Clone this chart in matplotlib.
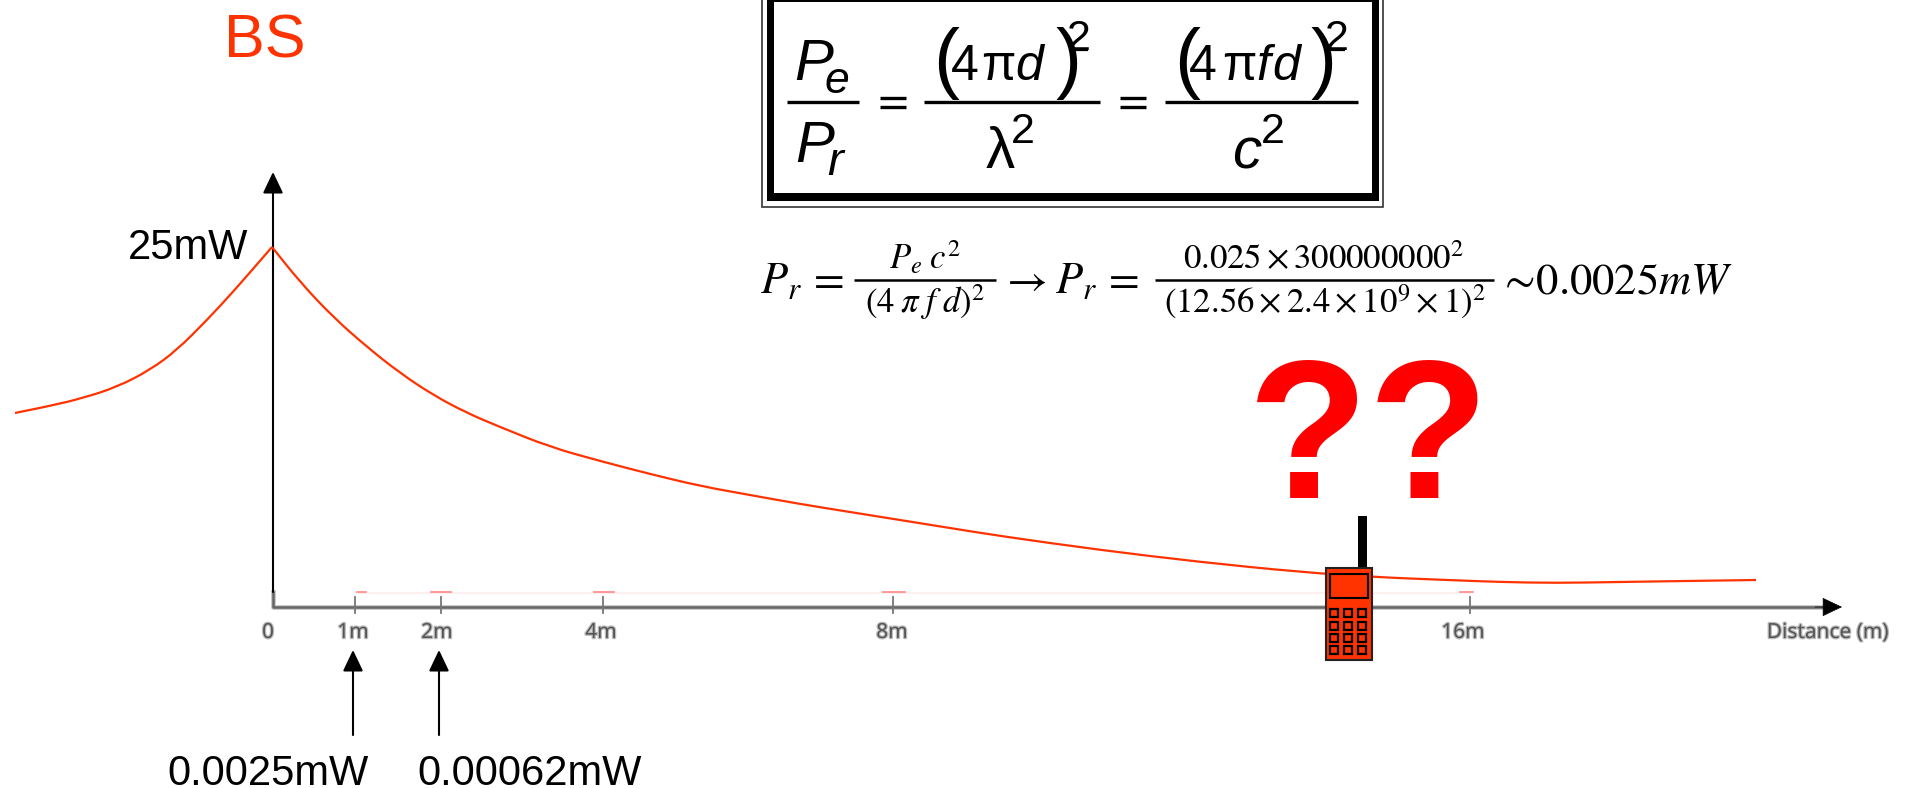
import matplotlib
matplotlib.use('Agg')
import matplotlib.pyplot as plt
import matplotlib.patheffects as pe
from matplotlib.patches import Rectangle, PathPatch
from matplotlib.path import Path

# the whole picture is a diagram, so the axes run in picture pixels
left_x = [15, 50, 83, 117, 150, 177, 207, 233, 272]
left_y = [413, 406, 398, 387, 370, 350, 320, 292, 247]
right_x = [272, 300, 333, 367, 400, 433, 467, 500, 550, 600, 650, 700, 750, 800, 850, 900,
	950, 1000, 1100, 1200, 1300, 1373, 1447, 1500, 1555, 1620, 1685, 1756]
right_y = [247, 282, 317, 347, 373, 395, 413, 427, 447, 461, 474, 486, 495, 504, 512, 520,
	528, 536, 550, 562, 572, 577, 580, 582, 583, 582, 581, 580]

tick_x = [355, 441, 603, 893, 1470]
tick_label_x = [268, 353, 437, 601, 892, 1463, 1828]
tick_labels = ['0', '1m', '2m', '4m', '8m', '16m', 'Distance (m)']
red_mark_start = [357, 431, 594, 883, 1460]
red_mark_end = [366, 451, 614, 905, 1473]

arrow_x = [353, 439]
arrow_label_x = [268, 530]
arrow_labels = ['0.0025mW', '0.00062mW']

key_x = [1334, 1348, 1362]
key_y = [613, 626, 638, 650]

ORANGE = '#ff3300'
ARIAL = 'Liberation Sans'

fig = plt.figure(figsize=(19.10, 7.88), dpi=100)
ax = fig.add_axes([0, 0, 1, 1])
ax.set_xlim(0, 1910)
ax.set_ylim(788, 0)
ax.axis('off')
plt.rcParams['mathtext.fontset'] = 'stix'


def arrow(x0, y0, x1, y1, color='black', lw=1.5):
	ax.annotate('', xy=(x1, y1), xytext=(x0, y0), arrowprops=dict(
		arrowstyle='-|>,head_length=13,head_width=6.2', mutation_scale=1,
		color=color, lw=lw, shrinkA=0, shrinkB=0))


def label(x, y, s, size, ha='center', style='normal', color='black', weight='normal'):
	ax.text(x, y, s, fontsize=size, ha=ha, va='baseline', family=ARIAL,
		style=style, color=color, weight=weight)


def math(x, y, s, size, ha='center'):
	ax.text(x, y, s, fontsize=size, ha=ha, va='baseline', color='black')


def smooth_line(xs, ys):
	# quadratic pieces through the midpoints, the read points are the control points
	pts = list(zip(xs, ys))
	verts = [pts[0]]
	codes = [Path.MOVETO]
	for a, b in zip(pts[1:-1], pts[2:]):
		verts += [a, ((a[0] + b[0]) / 2, (a[1] + b[1]) / 2)]
		codes += [Path.CURVE3, Path.CURVE3]
	verts.append(pts[-1])
	codes.append(Path.LINETO)
	ax.add_patch(PathPatch(Path(verts, codes), fc='none', ec=ORANGE, lw=1.6, zorder=3))


### Axes of the sketch
ax.plot([355, 1470], [593, 593], color='#fff0f0', lw=1.5, zorder=1)
for a, b in zip(red_mark_start, red_mark_end):
	ax.plot([a, b], [592, 592], color='#ff8888', lw=1.2, zorder=1)

ax.plot([273, 273, 1830], [592, 607, 607], color='#c4c4c4', lw=3.4, zorder=2)
ax.plot([273, 273, 1830], [592, 607, 607], color='#666666', lw=1.8, zorder=2)
for x in tick_x:
	ax.plot([x, x], [597, 613], color='#777777', lw=1.3, zorder=2)
arrow(1815, 607, 1842, 607, color='black', lw=0.5)
arrow(273, 592, 273, 172)

for x, s in zip(tick_label_x, tick_labels):
	ax.text(x, 638, s, fontsize=15, ha='center', va='baseline', family='Noto Sans', color='#555555',
		path_effects=[pe.withStroke(linewidth=1.8, foreground='#bbbbbb')])

smooth_line(left_x, left_y)
smooth_line(right_x[::-1], right_y[::-1])

label(265, 57, 'BS', 44, color=ORANGE)
label(188, 259, '25mW', 30)

for x, lx, s in zip(arrow_x, arrow_label_x, arrow_labels):
	arrow(x, 735, x, 650)
	label(lx, 785, s, 30)

### Handset
ax.add_patch(Rectangle((1358, 516), 9, 53, fc='black', ec='none', zorder=4))
ax.add_patch(Rectangle((1326, 568), 46, 92, fc=ORANGE, ec='#222222', lw=1.5, zorder=4))
ax.add_patch(Rectangle((1329.5, 574), 38, 24, fc=ORANGE, ec='black', lw=1.5, zorder=5))
for kx in key_x:
	for ky in key_y:
		ax.add_patch(Rectangle((kx - 4, ky - 4), 8, 8, fc=ORANGE, ec='black', lw=1.6, zorder=5))

label(1368, 498, '??', 142, color='#ff0000', weight='bold')

### Boxed formula
ax.add_patch(Rectangle((762, -5), 621, 212, fc='white', ec='#333333', lw=1.2, zorder=1))
ax.add_patch(Rectangle((766.5, 0), 612, 201, fc='black', ec='none', zorder=1))
ax.add_patch(Rectangle((774, 2), 598, 191, fc='white', ec='none', zorder=1))

for a, b in [(787, 859), (924, 1100), (1165, 1358)]:
	ax.plot([a, b], [102, 102], color='black', lw=2.4, solid_capstyle='butt')
for x in [893, 1133]:
	ax.plot([x - 13, x + 13], [98, 98], color='black', lw=2.4, solid_capstyle='butt')
	ax.plot([x - 13, x + 13], [107, 107], color='black', lw=2.4, solid_capstyle='butt')
for a, b in [(1072, 1088), (1328, 1345)]:
	ax.plot([a, b], [50, 50], color='black', lw=1.6, solid_capstyle='butt')

label(794, 80, 'P', 42, ha='left', style='italic')
label(824, 93, 'e', 32, ha='left', style='italic')
label(795, 162, 'P', 42, ha='left', style='italic')
label(827, 175, 'r', 34, ha='left', style='italic')

label(933, 84, '(', 56, ha='left')
label(951, 80, '4', 36, ha='left')
label(981, 80, 'π', 36, ha='left')
label(1015, 80, 'd', 36, ha='left', style='italic')
label(1055, 84, ')', 56, ha='left')
label(1067, 50, '2', 31, ha='left')
label(986, 168, 'λ', 42, ha='left')
label(1011, 143, '2', 31, ha='left')

label(1174, 84, '(', 56, ha='left')
label(1189, 80, '4', 36, ha='left')
label(1222, 80, 'π', 36, ha='left')
label(1256, 80, 'f', 36, ha='left', style='italic')
label(1272, 80, 'd', 36, ha='left', style='italic')
label(1310, 84, ')', 56, ha='left')
label(1325, 50, '2', 31, ha='left')
label(1232, 168, 'c', 42, ha='left', style='italic')
label(1261, 143, '2', 31, ha='left')

### Worked example
math(760, 293, r'$P_r\,=$', 32, ha='left')
ax.plot([854, 996], [280, 280], color='black', lw=1.8, solid_capstyle='butt')
math(925, 269, r'$P_e\;c^2$', 25)
math(925, 313, r'$(4\;\pi\;f\;d)^2$', 25)
math(1023, 293, r'$\rightarrow$', 32)
math(1055, 293, r'$P_r\,=$', 32, ha='left')
ax.plot([1155, 1494], [280, 280], color='black', lw=1.8, solid_capstyle='butt')
math(1323, 269, r'$0.025\times300000000^2$', 25)
math(1325, 313, r'$(12.56\times2.4\times10^9\times1)^2$', 25)
math(1498, 293, r'$\sim\!0.0025mW$', 32, ha='left')

plt.savefig('out.png', dpi=100)
plt.close()
